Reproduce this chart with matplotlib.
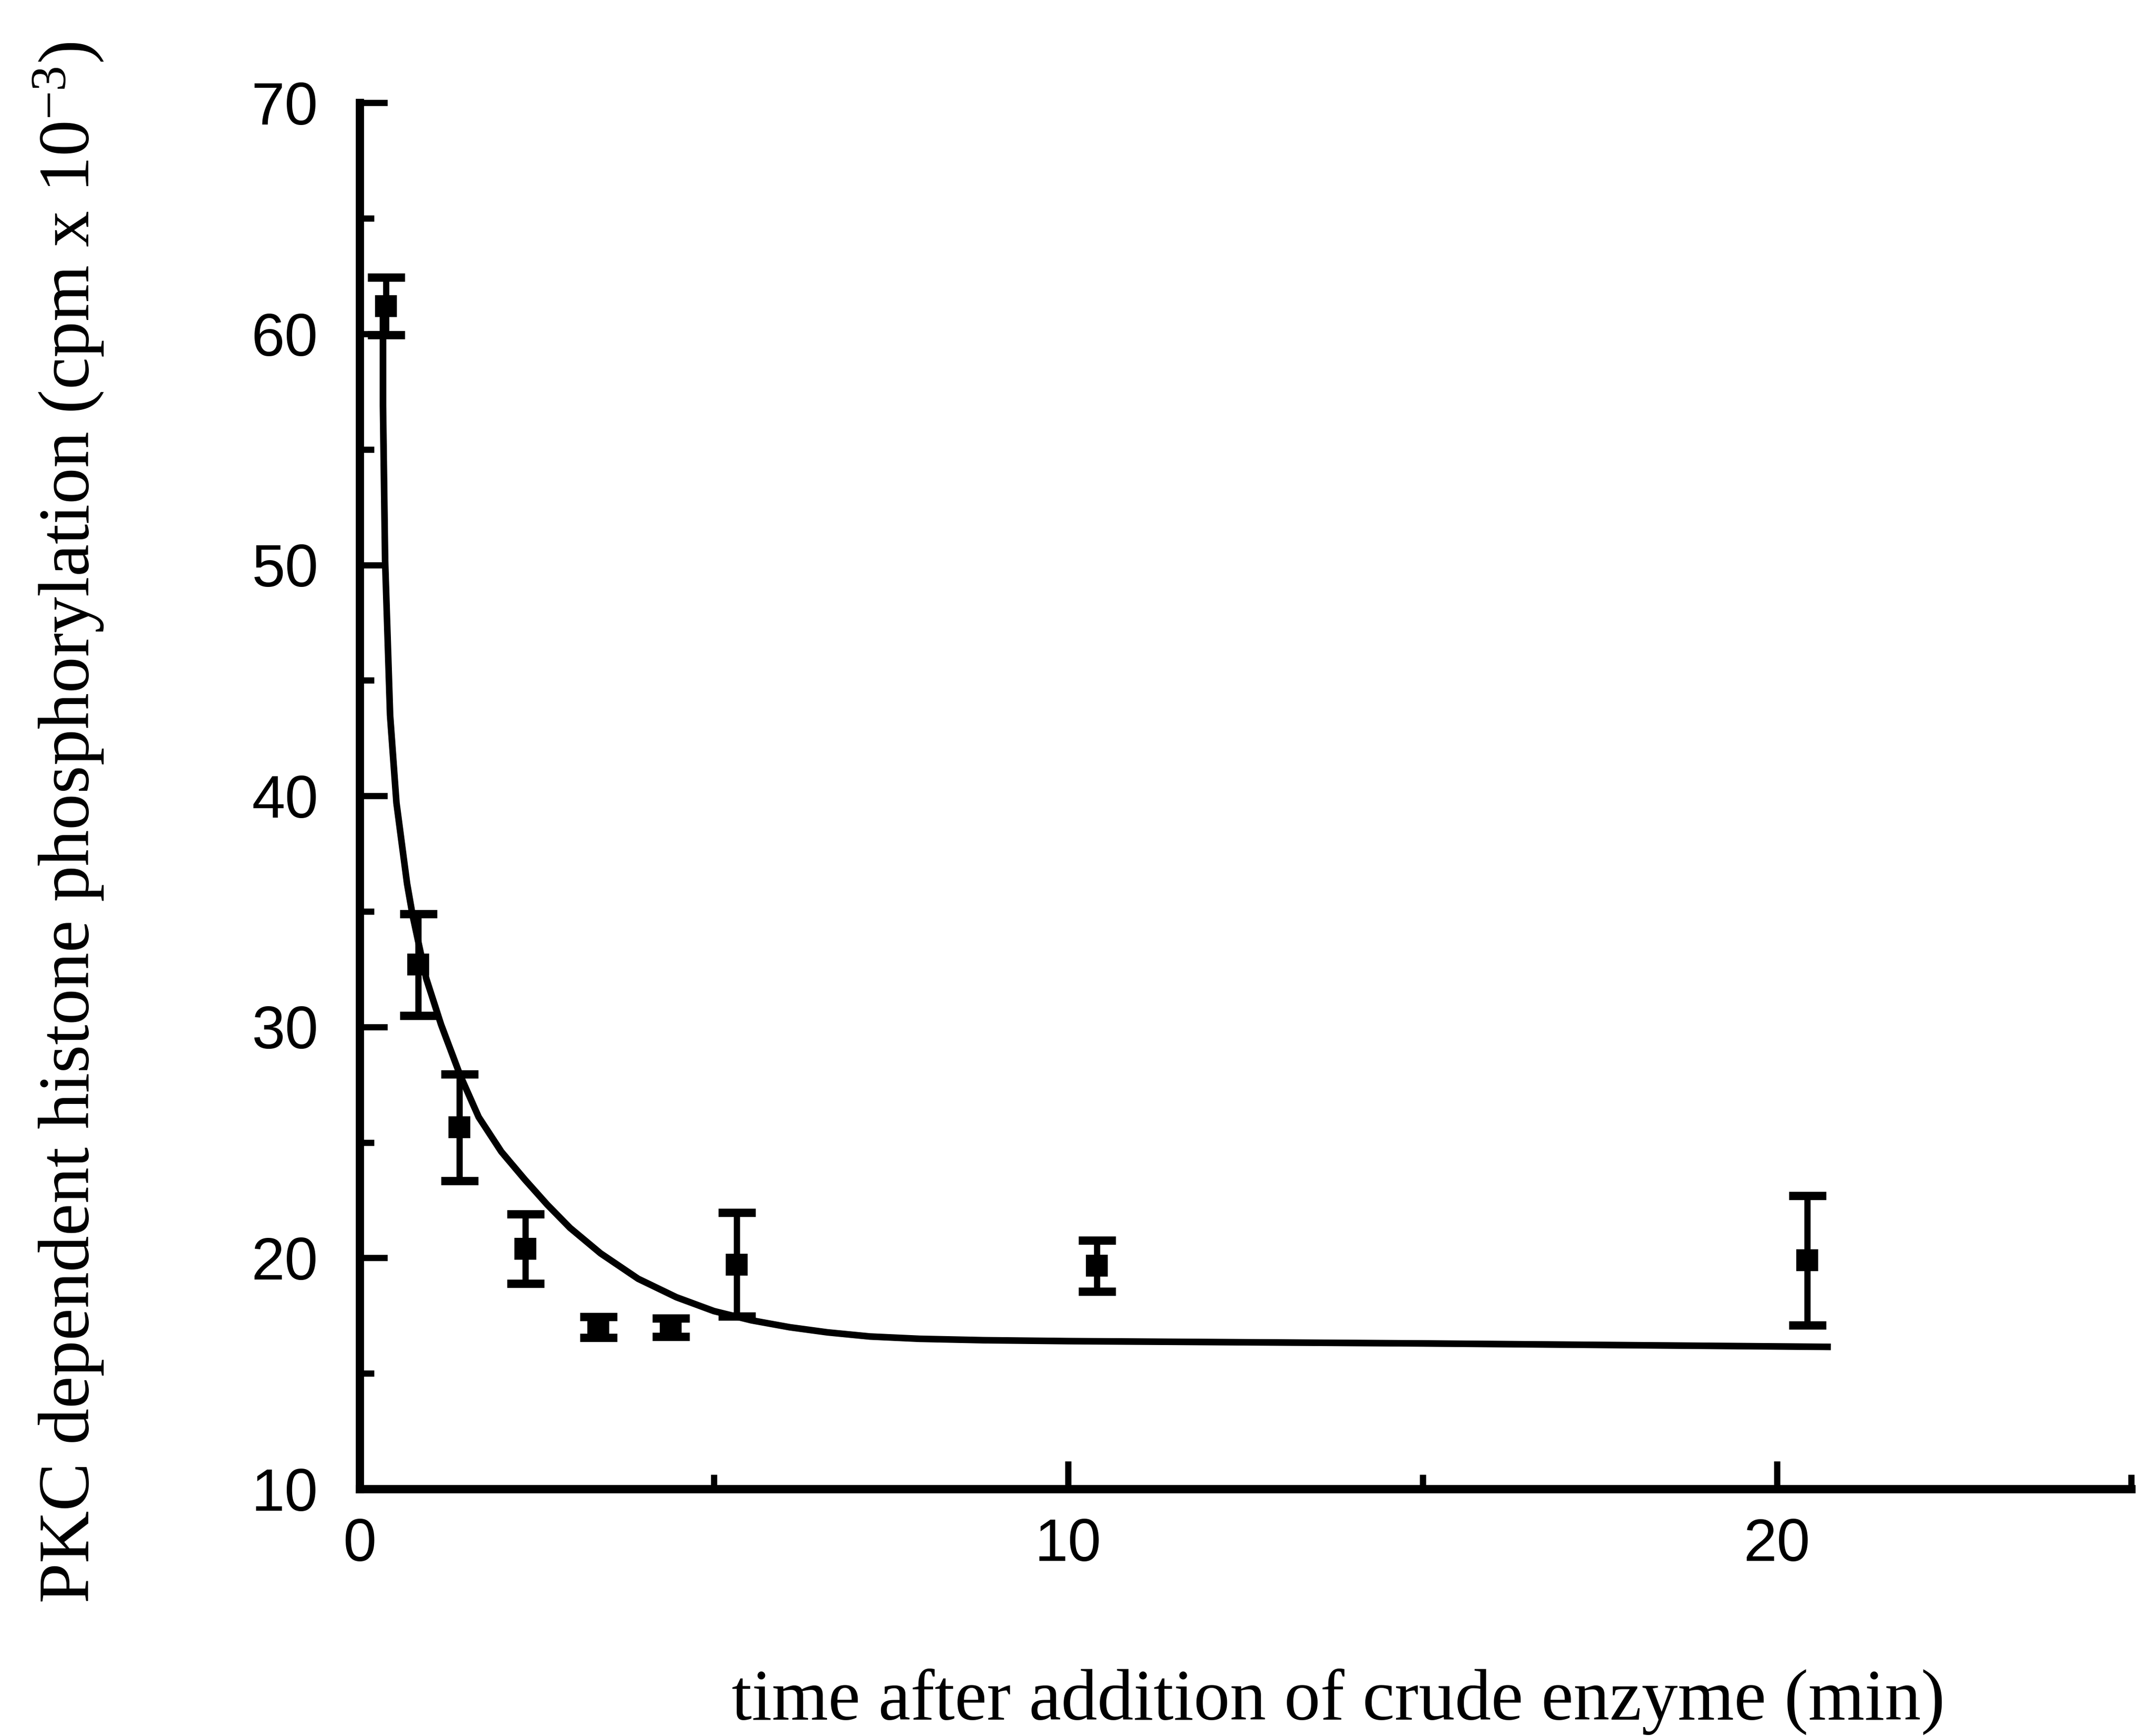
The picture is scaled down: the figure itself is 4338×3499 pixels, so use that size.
import matplotlib
matplotlib.use("Agg")
import matplotlib.pyplot as plt
from matplotlib.ticker import MultipleLocator, FixedLocator

# --- data ---
time_min = [0.37, 0.83, 1.41, 2.34, 3.37, 4.39, 5.32, 10.4, 20.43]
phospho = [61.2, 32.7, 25.65, 20.4, 17.0, 17.0, 19.72, 19.66, 19.9]
phospho_err = [1.25, 2.2, 2.3, 1.5, 0.45, 0.4, 2.25, 1.1, 2.8]

fit_x = [0.33, 0.33, 0.36, 0.43, 0.52, 0.67, 0.75, 0.94, 1.15, 1.42, 1.68, 2.0,
         2.33, 2.65, 2.97, 3.40, 3.93, 4.47, 5.0, 5.53, 6.07, 6.6, 7.2, 7.9,
         8.8, 10.0, 15.0, 20.76]
fit_y = [61.0, 56.9, 50.2, 43.5, 39.7, 36.2, 34.8, 32.1, 30.1, 27.9, 26.1, 24.6,
         23.4, 22.3, 21.3, 20.2, 19.1, 18.3, 17.7, 17.3, 17.0, 16.78, 16.6, 16.5,
         16.44, 16.4, 16.3, 16.15]

x_major = [10, 20]
x_minor = [5, 15, 25]
x_ticklabels = ["0", "10", "20"]
y_ticks = [10, 20, 30, 40, 50, 60, 70]

xlabel = "time after addition of crude enzyme (min)"
ylabel = "PKC dependent histone phosphorylation (cpm x 10$^{-3}$)"

plt.rcParams["mathtext.fontset"] = "custom"
plt.rcParams["mathtext.rm"] = "Liberation Serif"
plt.rcParams["mathtext.it"] = "Liberation Serif"

fig = plt.figure(figsize=(4338 / 300, 3499 / 300), dpi=300)
ax = fig.add_axes([0.1671, 0.1423, 0.8233, 0.7984])

ax.plot(fit_x, fit_y, color="black", lw=3.2, solid_capstyle="butt",
        solid_joinstyle="round", zorder=2)
ax.errorbar(time_min, phospho, yerr=phospho_err, fmt="s", color="black",
            markersize=9.5, elinewidth=3.0, capsize=9, capthick=4.0, zorder=3)

ax.set_xlim(0, 25)
ax.set_ylim(10, 70)

for s in ["top", "right"]:
    ax.spines[s].set_visible(False)
for s in ["left", "bottom"]:
    ax.spines[s].set_linewidth(4)

ax.xaxis.set_major_locator(FixedLocator([0] + x_major))
ax.set_xticklabels(x_ticklabels)
ax.xaxis.set_minor_locator(FixedLocator(x_minor))
ax.yaxis.set_major_locator(FixedLocator(y_ticks))
ax.yaxis.set_minor_locator(MultipleLocator(5))

ax.tick_params(axis="both", which="major", direction="in", length=13.5, width=3,
               labelsize=29)
ax.tick_params(axis="both", which="minor", direction="in", length=7, width=3)
ax.tick_params(axis="x", which="major", pad=14)
ax.tick_params(axis="y", which="major", pad=20)
for lab in ax.get_xticklabels() + ax.get_yticklabels():
    lab.set_fontfamily("Liberation Sans")

ax.set_xlabel(xlabel, fontsize=35, family="Liberation Serif", va="center", ha="center")
ax.xaxis.set_label_coords(0.5523, -0.1534)
ax.set_ylabel(ylabel, fontsize=35, family="Liberation Serif", va="center", ha="center",
              rotation=90)
ax.yaxis.set_label_coords(-0.1642, 0.4806)

fig.savefig("out.png", dpi=300, facecolor="white")
